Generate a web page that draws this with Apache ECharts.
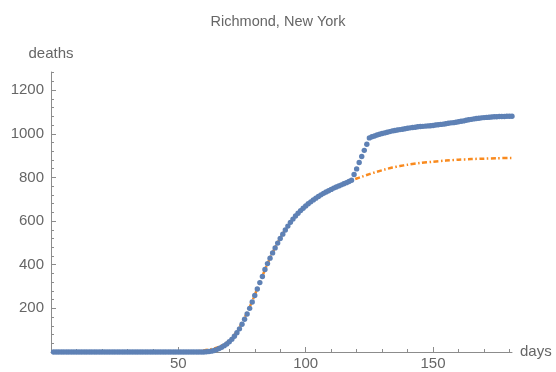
<!DOCTYPE html>
<html>
<head>
<meta charset="utf-8">
<script src="https://cdn.jsdelivr.net/npm/echarts@6/dist/echarts.min.js"></script>
<style>html,body{margin:0;padding:0;background:#fff}#c{width:556px;height:372px}</style>
</head>
<body>
<div id="c"></div>
<script>
// ---- data ----
const titleText = "Richmond, New York";
const xName = "days";
const yName = "deaths";

// observed deaths, days 1..181
const observedDays = Array.from({length: 181}, (_, i) => i + 1);
const observedDeaths = [
  // days 1-59
  0,0,0,0,0,0,0,0,0,0, 0,0,0,0,0,0,0,0,0,0,
  0,0,0,0,0,0,0,0,0,0, 0,0,0,0,0,0,0,0,0,0,
  0,0,0,0,0,0,0,0,0,0, 0,0,0,0,0,0,0,0,0,
  // days 60-69
  0,1,2,4,7,11,16,22,29,37,
  // 70-79
  47,58,72,88,106,127,150,174,200,229,
  // 80-89
  259,289,318,346,378,405,430,454,477,499,
  // 90-99
  520,540,559,577,594,609,623,636,648,659,
  // 100-109
  669,679,688,697,705,713,720,727,733,739,
  // 110-119
  745,751,756,761,766,771,776,781,787,813,
  // 120-129
  839,868,896,924,952,981,986,990,994,998,
  // 130-139
  1001,1004,1007,1010,1013,1015,1017,1019,1021,1023,
  // 140-149
  1025,1027,1029,1030,1032,1033,1034,1035,1036,1037,
  // 150-159
  1038,1040,1041,1043,1044,1046,1048,1050,1051,1053,
  // 160-169
  1055,1057,1059,1062,1064,1066,1068,1070,1071,1073,
  // 170-181
  1074,1075,1076,1077,1078,1078,1079,1079,1079,1080,1080,1080
];

// fitted curve
const fitDays = [1,50,54,56,58,60,62,64,66,68,70,72,74,76,78,80,82,84,86,88,90,92,94,96,98,100,102,104,106,108,110,112,114,116,118,120,122,125,128,131,134,137,140,145,150,155,160,165,170,175,181];
const fitDeaths = [0,0,1,2,4,7,11,16,24,35,52,78,112,157,206,261,319,377,431,479,522,560,594,623,649,671,690,707,722,735,747,758,768,777,786,795,803,815,826,836,845,852,858,866,872,877,881,884,886,888,889];

// axis ticks
const xMajorTicks = [50,100,150];
const xMinorTicks = [10,20,30,40,60,70,80,90,110,120,130,140,160,170,180];
const yMajorTicks = [200,400,600,800,1000,1200];
const yMinorTicks = [40,80,120,160,240,280,320,360,440,480,520,560,640,680,720,760,840,880,920,960,1040,1080,1120,1160,1240,1280];
const xMax = 181;
const yMax = 1283;

// ---- chart ----
const font = "'Liberation Sans', Arial, sans-serif";
const textGray = '#666666';
const axisGray = '#8c8c8c';

const observed = observedDays.map((d, i) => [d, observedDeaths[i]]);
const fit = fitDays.map((d, i) => [d, fitDeaths[i]]);

const chart = echarts.init(document.getElementById('c'), null, {renderer: 'canvas'});
chart.setOption({
  animation: false,
  backgroundColor: '#ffffff',
  title: {
    text: titleText, left: 'center', top: 9,
    textStyle: {fontFamily: font, fontSize: 14.5, fontWeight: 'normal', color: textGray}
  },
  grid: {left: 51, right: 44, top: 72, bottom: 20, containLabel: false},
  xAxis: [{
    type: 'value', min: 0, max: xMax,
    name: xName, nameLocation: 'end', nameGap: 8,
    nameTextStyle: {fontFamily: font, fontSize: 15, color: textGray, verticalAlign: 'middle'},
    axisLine: {show: true, onZero: false, lineStyle: {color: axisGray, width: 1}},
    axisTick: {show: true, inside: true, length: 5, customValues: xMajorTicks, lineStyle: {color: axisGray}},
    axisLabel: {show: true, customValues: xMajorTicks, margin: 4, fontFamily: font, fontSize: 15, color: textGray,
      formatter: v => String(v)},
    splitLine: {show: false}
  }, {
    type: 'value', min: 0, max: xMax, position: 'bottom',
    axisLine: {show: false},
    axisTick: {show: true, inside: true, length: 3, customValues: xMinorTicks, lineStyle: {color: axisGray}},
    axisLabel: {show: false},
    splitLine: {show: false}
  }],
  yAxis: [{
    type: 'value', min: 0, max: yMax,
    name: yName, nameLocation: 'end', nameGap: 11,
    nameTextStyle: {fontFamily: font, fontSize: 15, color: textGray, align: 'center'},
    axisLine: {show: true, onZero: false, lineStyle: {color: axisGray, width: 1}},
    axisTick: {show: true, inside: true, length: 5, customValues: yMajorTicks, lineStyle: {color: axisGray}},
    axisLabel: {show: true, customValues: yMajorTicks, margin: 7, fontFamily: font, fontSize: 15, color: textGray,
      formatter: v => String(v)},
    splitLine: {show: false}
  }, {
    type: 'value', min: 0, max: yMax, position: 'left',
    axisLine: {show: false},
    axisTick: {show: true, inside: true, length: 3, customValues: yMinorTicks, lineStyle: {color: axisGray}},
    axisLabel: {show: false},
    splitLine: {show: false}
  }],
  series: [{
    type: 'line', data: fit, xAxisIndex: 0, yAxisIndex: 0,
    showSymbol: false, smooth: 0.3, z: 2,
    lineStyle: {color: '#F98A1E', width: 2.5, type: [5, 2.5, 1.5, 2.5]}
  }, {
    type: 'scatter', data: observed, xAxisIndex: 0, yAxisIndex: 0,
    symbol: 'circle', symbolSize: 5.4, z: 3, clip: false,
    itemStyle: {color: '#5E81B5', opacity: 1}
  }]
});
</script>
</body>
</html>
